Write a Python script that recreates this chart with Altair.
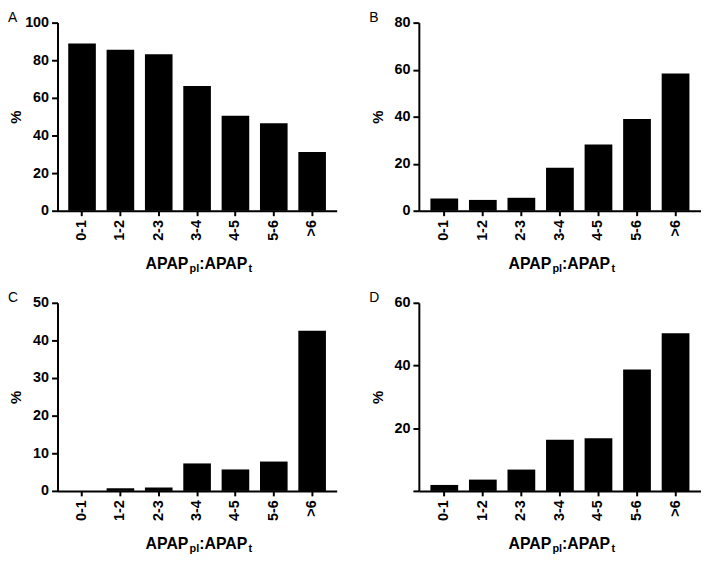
import altair as alt
import pandas as pd

categories = ["0-1", "1-2", "2-3", "3-4", "4-5", "5-6", ">6"]
panel_a = [88.9, 85.6, 83.2, 66.3, 50.5, 46.5, 31.2]
panel_b = [5.2, 4.6, 5.5, 18.3, 28.2, 39.0, 58.4]
panel_c = [0.0, 0.7, 0.9, 7.3, 5.7, 7.8, 42.6]
panel_d = [1.9, 3.6, 6.8, 16.3, 16.8, 38.7, 50.3]

FONT = "Liberation Sans"
H = 190


def panel(letter, values, width, ymax, yticks, pad_outer, hide_zero=False):
    df = pd.DataFrame({"cat": categories, "val": values})
    yaxis_kw = dict(
        values=yticks, title="%", titleX=-42, titleY=H / 2, titleAngle=-90,
        titleBaseline="middle", titleAlign="center",
        titleFontSize=15, titleFontWeight="bold", titleFont=FONT,
        tickSize=6, labelPadding=3,
    )
    if hide_zero:
        yaxis_kw["labelExpr"] = "datum.value == 0 ? '' : datum.label"
    bars = alt.Chart(df).mark_bar(color="black").encode(
        x=alt.X("cat:N", sort=categories, title=None,
                scale=alt.Scale(paddingInner=0.28, paddingOuter=pad_outer),
                axis=alt.Axis(labelAngle=-90, tickSize=5, labelPadding=4)),
        y=alt.Y("val:Q", scale=alt.Scale(domain=[0, ymax], nice=False),
                axis=alt.Axis(**yaxis_kw)),
    )
    one = pd.DataFrame({"k": [0]})
    base = alt.Chart(one)
    x0 = width / 2 - 52
    title_parts = [
        ("APAP", 0.0, 16, 59),
        ("pl", 44.4, 11, 62),
        (":APAP", 54.2, 16, 59),
        ("t", 104.0, 11, 62),
    ]
    layers = [bars]
    for txt, dx, size, dy in title_parts:
        layers.append(
            base.mark_text(text=txt, align="left", baseline="alphabetic",
                           fontSize=size, fontWeight="bold", font=FONT,
                           color="black").encode(
                x=alt.value(x0 + dx), y=alt.value(H + dy))
        )
    layers.append(
        base.mark_text(text=letter, align="left", baseline="top",
                       fontSize=14, font=FONT, color="black").encode(
            x=alt.value(-50), y=alt.value(-12))
    )
    return alt.layer(*layers).properties(width=width, height=H)


A = panel("A", panel_a, 282, 100, [0, 20, 40, 60, 80, 100], 0.28)
B = panel("B", panel_b, 285, 80, [0, 20, 40, 60, 80], 0.3)
C = panel("C", panel_c, 282, 50, [0, 10, 20, 30, 40, 50], 0.28)
D = panel("D", panel_d, 285, 60, [0, 20, 40, 60], 0.3, hide_zero=True)

chart = alt.vconcat(
    alt.hconcat(A, B, spacing=33),
    alt.hconcat(C, D, spacing=33),
    spacing=17,
).properties(
    padding={"left": 0, "top": 0, "right": 0, "bottom": 0}
).configure_view(stroke=None).configure_axis(
    grid=False, domainColor="black", domainWidth=2, tickColor="black",
    tickWidth=2, labelFont=FONT, labelFontWeight="bold", labelFontSize=14.5,
    labelColor="black", titleColor="black",
)

chart.save("out.html", embed_options={"renderer": "svg", "actions": False})
